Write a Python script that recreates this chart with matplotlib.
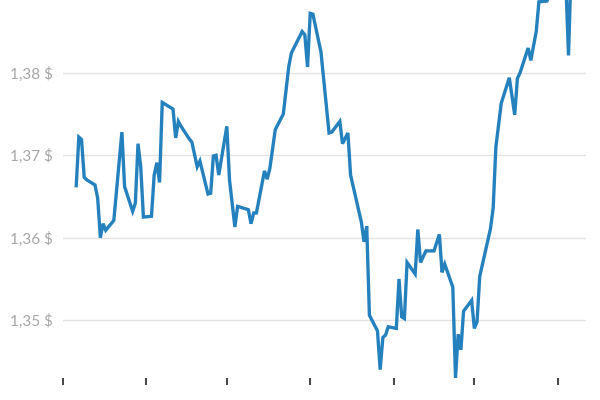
import matplotlib
matplotlib.use("Agg")
import matplotlib.pyplot as plt
import pandas as pd

dates = [
    "2024-05-06", "2024-05-07", "2024-05-08", "2024-05-09", "2024-05-10",
    "2024-05-13", "2024-05-14", "2024-05-15", "2024-05-16", "2024-05-17",
    "2024-05-20", "2024-05-23", "2024-05-24", "2024-05-27", "2024-05-28",
    "2024-05-29", "2024-05-30", "2024-05-31", "2024-06-03", "2024-06-04",
    "2024-06-05", "2024-06-06", "2024-06-07", "2024-06-11", "2024-06-12",
    "2024-06-13", "2024-06-14", "2024-06-17", "2024-06-18", "2024-06-20",
    "2024-06-21", "2024-06-24", "2024-06-25", "2024-06-26", "2024-06-27",
    "2024-06-28", "2024-07-01", "2024-07-02", "2024-07-04", "2024-07-05",
    "2024-07-09", "2024-07-10", "2024-07-11", "2024-07-12", "2024-07-15",
    "2024-07-16", "2024-07-17", "2024-07-19", "2024-07-22", "2024-07-24",
    "2024-07-25", "2024-07-29", "2024-07-30", "2024-07-31", "2024-08-01",
    "2024-08-02", "2024-08-05", "2024-08-08", "2024-08-09", "2024-08-12",
    "2024-08-13", "2024-08-15", "2024-08-16", "2024-08-20", "2024-08-21",
    "2024-08-22", "2024-08-23", "2024-08-26", "2024-08-27", "2024-08-28",
    "2024-08-29", "2024-08-30", "2024-09-02", "2024-09-03", "2024-09-04",
    "2024-09-05", "2024-09-06", "2024-09-09", "2024-09-10", "2024-09-11",
    "2024-09-13", "2024-09-16", "2024-09-18", "2024-09-19", "2024-09-20",
    "2024-09-23", "2024-09-24", "2024-09-25", "2024-09-26", "2024-09-27",
    "2024-09-30", "2024-10-01", "2024-10-02", "2024-10-03", "2024-10-07",
    "2024-10-08", "2024-10-09", "2024-10-11", "2024-10-14", "2024-10-16",
    "2024-10-17", "2024-10-18", "2024-10-21", "2024-10-22", "2024-10-24",
    "2024-10-25", "2024-10-28", "2024-10-31", "2024-11-03", "2024-11-04",
    "2024-11-05", "2024-11-06",
]

rates = [
    1.3661, 1.3722, 1.3719, 1.3673, 1.3670,
    1.3664, 1.3648, 1.3600, 1.3617, 1.3609,
    1.3621, 1.3728, 1.3662, 1.3632, 1.3642,
    1.3714, 1.3686, 1.3625, 1.3626, 1.3676,
    1.3691, 1.3667, 1.3764, 1.3756, 1.3721,
    1.3741, 1.3735, 1.3720, 1.3716, 1.3686,
    1.3693, 1.3653, 1.3654, 1.3699, 1.3700,
    1.3676, 1.3735, 1.3670, 1.3613, 1.3638,
    1.3634, 1.3617, 1.3630, 1.3630, 1.3681,
    1.3671, 1.3684, 1.3731, 1.3750, 1.3807,
    1.3824, 1.3850, 1.3846, 1.3807, 1.3872,
    1.3871, 1.3825, 1.3727, 1.3728, 1.3741,
    1.3714, 1.3727, 1.3676, 1.3619, 1.3595,
    1.3614, 1.3506, 1.3487, 1.3440, 1.3479,
    1.3482, 1.3492, 1.3490, 1.3550, 1.3504,
    1.3502, 1.3570, 1.3556, 1.3610, 1.3570,
    1.3584, 1.3584, 1.3604, 1.3558, 1.3568,
    1.3540, 1.3430, 1.3483, 1.3464, 1.3511,
    1.3524, 1.3490, 1.3498, 1.3553, 1.3611,
    1.3636, 1.3710, 1.3763, 1.3794, 1.3749,
    1.3793, 1.3800, 1.3830, 1.3815, 1.3850,
    1.3886, 1.3887, 1.3915, 1.3930, 1.3910,
    1.3821, 1.3930,
]

y_ticks = [1.35, 1.36, 1.37, 1.38, 1.39]
y_labels = ["1,35 $", "1,36 $", "1,37 $", "1,38 $", "1,39 $"]
x_ticks = ["2024-05-01", "2024-06-01", "2024-07-01", "2024-08-01",
           "2024-09-01", "2024-10-01", "2024-11-01"]
x_labels = ["mai", "juin", "juil.", "août", "sept.", "oct.", "nov."]

plt.rcParams["font.family"] = ["Lato", "DejaVu Sans"]

fig = plt.figure(figsize=(6, 4), dpi=100)
# axes extends beyond the top of the figure (chart is cropped)
ax = fig.add_axes([0.1045, 0.055, 0.8717, 1.093])

x = pd.to_datetime(dates)
ax.plot(x, rates, color="#2481bd", linewidth=2.4, solid_joinstyle="miter",
        solid_capstyle="butt", zorder=3)

ax.set_ylim(1.34299, 1.3960)
ax.set_xlim(pd.Timestamp("2024-05-01"),
            pd.Timestamp("2024-05-01") + pd.Timedelta(days=194.4))

ax.set_yticks(y_ticks)
ax.set_yticklabels(y_labels)
ax.set_xticks(pd.to_datetime(x_ticks))
ax.set_xticklabels(x_labels)

for s in ax.spines.values():
    s.set_visible(False)

ax.grid(axis="y", color="#e3e3e3", linewidth=1.0)
ax.grid(axis="x", visible=False)
ax.set_axisbelow(True)

ax.tick_params(axis="y", length=0, pad=7, labelsize=11, labelcolor="#a6a6a6")
ax.tick_params(axis="x", length=5, width=1.4, color="#444444", pad=11.2,
               labelsize=11, labelcolor="#a6a6a6", direction="out")

fig.savefig("out.png", dpi=100)
